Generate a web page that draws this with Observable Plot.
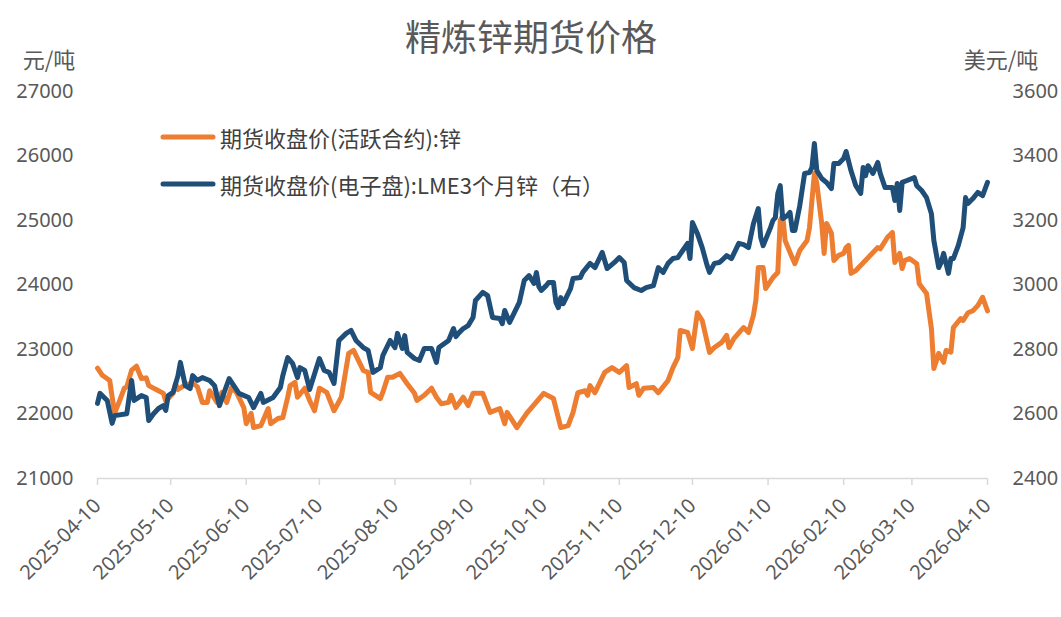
<!DOCTYPE html>
<html><head><meta charset="utf-8">
<script src="https://cdn.jsdelivr.net/npm/d3@7"></script>
<script src="https://cdn.jsdelivr.net/npm/@observablehq/plot@0.6"></script>
<style>html,body{margin:0;padding:0;background:#fff}#chart svg{display:block}</style>
</head><body><div id="chart"></div>
<script>
const chartTitle = "精炼锌期货价格";
const leftUnit = "元/吨";
const rightUnit = "美元/吨";
const seriesNames = ["期货收盘价(活跃合约):锌", "期货收盘价(电子盘):LME3个月锌（右）"];
const seriesColors = ["#ED7D31", "#1F4E79"];
const leftTicks = [21000, 22000, 23000, 24000, 25000, 26000, 27000];
const rightTicks = [2400, 2600, 2800, 3000, 3200, 3400, 3600];
const xTicks = ["2025-04-10","2025-05-10","2025-06-10","2025-07-10","2025-08-10","2025-09-10","2025-10-10","2025-11-10","2025-12-10","2026-01-10","2026-02-10","2026-03-10","2026-04-10"];

const shfeDates = ["2025-04-10","2025-04-12","2025-04-15","2025-04-17","2025-04-19","2025-04-21","2025-04-22","2025-04-24","2025-04-26","2025-04-28","2025-04-30","2025-05-01","2025-05-05","2025-05-07","2025-05-08","2025-05-11","2025-05-12","2025-05-13","2025-05-16","2025-05-19","2025-05-21","2025-05-23","2025-05-25","2025-05-26","2025-05-29","2025-05-31","2025-06-02","2025-06-04","2025-06-06","2025-06-09","2025-06-10","2025-06-12","2025-06-13","2025-06-16","2025-06-19","2025-06-20","2025-06-23","2025-06-25","2025-06-27","2025-06-28","2025-06-30","2025-07-01","2025-07-04","2025-07-06","2025-07-08","2025-07-10","2025-07-13","2025-07-16","2025-07-19","2025-07-22","2025-07-24","2025-07-28","2025-07-30","2025-07-31","2025-08-04","2025-08-05","2025-08-07","2025-08-09","2025-08-12","2025-08-15","2025-08-18","2025-08-19","2025-08-22","2025-08-25","2025-08-27","2025-08-29","2025-09-01","2025-09-02","2025-09-04","2025-09-07","2025-09-09","2025-09-11","2025-09-15","2025-09-18","2025-09-22","2025-09-24","2025-09-25","2025-09-29","2025-10-03","2025-10-10","2025-10-14","2025-10-17","2025-10-20","2025-10-22","2025-10-24","2025-10-27","2025-10-28","2025-10-29","2025-10-31","2025-11-04","2025-11-07","2025-11-10","2025-11-13","2025-11-14","2025-11-17","2025-11-18","2025-11-20","2025-11-24","2025-11-26","2025-11-30","2025-12-02","2025-12-04","2025-12-05","2025-12-08","2025-12-10","2025-12-12","2025-12-14","2025-12-17","2025-12-19","2025-12-22","2025-12-24","2025-12-25","2025-12-27","2025-12-30","2025-12-31","2026-01-02","2026-01-04","2026-01-05","2026-01-06","2026-01-08","2026-01-09","2026-01-12","2026-01-14","2026-01-15","2026-01-16","2026-01-17","2026-01-19","2026-01-21","2026-01-23","2026-01-26","2026-01-27","2026-01-29","2026-01-30","2026-02-01","2026-02-02","2026-02-03","2026-02-05","2026-02-06","2026-02-08","2026-02-10","2026-02-11","2026-02-12","2026-02-13","2026-02-15","2026-02-24","2026-02-25","2026-02-28","2026-03-02","2026-03-03","2026-03-05","2026-03-06","2026-03-07","2026-03-09","2026-03-12","2026-03-13","2026-03-16","2026-03-18","2026-03-19","2026-03-21","2026-03-23","2026-03-24","2026-03-26","2026-03-27","2026-03-30","2026-03-31","2026-04-02","2026-04-04","2026-04-06","2026-04-08","2026-04-10"];
const shfeValues = [22710,22600,22520,22010,22200,22400,22420,22680,22740,22550,22560,22440,22360,22320,22200,22320,22470,22380,22450,22480,22420,22180,22180,22360,22180,22335,22180,22410,22335,22100,21850,22010,21790,21820,22085,21850,21930,21945,22260,22440,22490,22260,22400,22210,22050,22400,22335,22050,22260,22940,22985,22675,22645,22335,22240,22335,22570,22570,22630,22470,22320,22210,22290,22400,22260,22160,22180,22290,22100,22260,22130,22320,22320,22025,22085,21850,22025,21790,22010,22320,22240,21790,21820,22020,22330,22360,22290,22440,22330,22645,22720,22645,22750,22410,22470,22290,22400,22410,22330,22520,22720,22875,23295,23265,23015,23570,23450,22955,23030,23110,23220,23030,23170,23300,23340,23265,23530,23760,24270,24270,23945,24115,24195,25000,25080,24690,24505,24330,24535,24690,24890,25730,25575,24955,24490,24955,24800,24380,24460,24490,24580,24615,24180,24225,24580,24560,24740,24815,24350,24490,24255,24380,24410,24330,24020,23870,23325,22705,22940,22800,22985,22960,23340,23480,23450,23570,23600,23680,23810,23600];

const lmeDates = ["2025-04-10","2025-04-11","2025-04-14","2025-04-16","2025-04-17","2025-04-22","2025-04-24","2025-04-25","2025-04-28","2025-04-30","2025-05-01","2025-05-03","2025-05-05","2025-05-07","2025-05-08","2025-05-09","2025-05-11","2025-05-13","2025-05-14","2025-05-16","2025-05-18","2025-05-19","2025-05-21","2025-05-23","2025-05-26","2025-05-28","2025-05-30","2025-06-03","2025-06-07","2025-06-11","2025-06-13","2025-06-16","2025-06-17","2025-06-21","2025-06-24","2025-06-25","2025-06-27","2025-06-29","2025-07-01","2025-07-02","2025-07-04","2025-07-06","2025-07-10","2025-07-12","2025-07-14","2025-07-16","2025-07-18","2025-07-21","2025-07-23","2025-07-25","2025-07-28","2025-07-30","2025-08-01","2025-08-04","2025-08-05","2025-08-08","2025-08-10","2025-08-11","2025-08-13","2025-08-14","2025-08-15","2025-08-18","2025-08-20","2025-08-22","2025-08-25","2025-08-27","2025-08-28","2025-09-01","2025-09-03","2025-09-04","2025-09-05","2025-09-07","2025-09-09","2025-09-11","2025-09-12","2025-09-15","2025-09-17","2025-09-19","2025-09-22","2025-09-23","2025-09-24","2025-09-26","2025-09-30","2025-10-02","2025-10-04","2025-10-06","2025-10-07","2025-10-08","2025-10-09","2025-10-11","2025-10-12","2025-10-14","2025-10-15","2025-10-16","2025-10-17","2025-10-18","2025-10-21","2025-10-22","2025-10-25","2025-10-26","2025-10-29","2025-10-31","2025-11-03","2025-11-05","2025-11-08","2025-11-10","2025-11-12","2025-11-13","2025-11-16","2025-11-19","2025-11-21","2025-11-24","2025-11-26","2025-11-28","2025-11-30","2025-12-02","2025-12-04","2025-12-06","2025-12-08","2025-12-09","2025-12-10","2025-12-12","2025-12-14","2025-12-16","2025-12-17","2025-12-19","2025-12-21","2025-12-22","2025-12-24","2025-12-26","2025-12-29","2025-12-31","2026-01-02","2026-01-04","2026-01-06","2026-01-07","2026-01-08","2026-01-11","2026-01-12","2026-01-13","2026-01-14","2026-01-15","2026-01-16","2026-01-18","2026-01-19","2026-01-20","2026-01-21","2026-01-23","2026-01-25","2026-01-27","2026-01-28","2026-01-29","2026-01-30","2026-02-01","2026-02-03","2026-02-05","2026-02-06","2026-02-08","2026-02-10","2026-02-11","2026-02-13","2026-02-15","2026-02-17","2026-02-18","2026-02-19","2026-02-20","2026-02-22","2026-02-24","2026-02-25","2026-02-27","2026-03-02","2026-03-03","2026-03-04","2026-03-05","2026-03-06","2026-03-08","2026-03-11","2026-03-12","2026-03-14","2026-03-16","2026-03-18","2026-03-19","2026-03-21","2026-03-22","2026-03-23","2026-03-25","2026-03-26","2026-03-27","2026-03-29","2026-03-31","2026-04-01","2026-04-02","2026-04-04","2026-04-06","2026-04-08","2026-04-10"];
const lmeValues = [2633,2664,2642,2571,2595,2601,2704,2642,2657,2651,2580,2601,2617,2626,2611,2657,2667,2719,2760,2688,2679,2719,2704,2713,2704,2688,2626,2710,2664,2651,2620,2664,2636,2651,2682,2719,2775,2757,2713,2744,2735,2676,2772,2735,2729,2695,2828,2850,2859,2828,2806,2797,2729,2744,2781,2828,2806,2850,2803,2843,2791,2772,2766,2803,2803,2760,2806,2828,2865,2840,2850,2865,2874,2899,2952,2977,2967,2899,2896,2880,2921,2884,2946,3014,3029,3005,3039,2995,2983,2998,3008,3008,2946,2930,2961,2942,2989,3020,3023,3039,3067,3054,3101,3051,3070,3085,3070,3014,2992,2983,2992,2998,3054,3039,3067,3082,3085,3107,3129,3082,3194,3160,3116,3061,3039,3067,3070,3076,3091,3082,3129,3125,3116,3190,3237,3147,3122,3178,3200,3209,3284,3308,3206,3216,3225,3169,3169,3246,3346,3349,3364,3439,3355,3330,3318,3299,3377,3377,3392,3414,3355,3308,3284,3364,3339,3370,3346,3380,3346,3302,3302,3262,3315,3231,3318,3324,3333,3308,3293,3271,3221,3138,3054,3070,3098,3036,3082,3082,3122,3178,3271,3253,3268,3287,3277,3318];

// LME values are drawn on the right axis: map USD onto the left (CNY) scale
const toLeft = v => 21000 + (v - 2400) * 5;
const toRight = v => Math.round((v - 21000) / 5 + 2400);

const parse = d3.utcParse("%Y-%m-%d");
const fmt = d3.utcFormat("%Y-%m-%d");
const shfe = shfeDates.map((d, i) => ({date: parse(d), value: shfeValues[i]}));
const lme = lmeDates.map((d, i) => ({date: parse(d), value: toLeft(lmeValues[i])}));

const tickFont = "'Noto Sans', 'Open Sans', sans-serif";
const cjkFont = "'Noto Sans CJK SC', 'Noto Sans', sans-serif";

const plot = Plot.plot({
  width: 1061,
  height: 617,
  marginLeft: 97,
  marginRight: 74,
  marginTop: 91,
  marginBottom: 139,
  style: {fontFamily: tickFont, fontSize: "20px", color: "#595959", background: "#fff"},
  x: {type: "utc", domain: [parse(xTicks[0]), parse(xTicks[xTicks.length - 1])]},
  y: {domain: [leftTicks[0], leftTicks[leftTicks.length - 1]]},
  marks: [
    Plot.ruleY([leftTicks[0]], {stroke: "#d9d9d9", strokeWidth: 1.5}),
    Plot.axisX(xTicks.map(parse), {tickFormat: fmt, tickRotate: -45, tickSize: 7, tickPadding: 17, stroke: "#d9d9d9", fill: "#595959", strokeWidth: 1.5, fontSize: 20, label: null}),
    Plot.axisY(leftTicks, {anchor: "left", tickSize: 0, tickPadding: 24, tickFormat: d => String(d), fill: "#595959", fontSize: 20, label: null}),
    Plot.axisY(rightTicks.map(toLeft), {anchor: "right", tickSize: 0, tickPadding: 25, tickFormat: d => String(toRight(d)), fill: "#595959", fontSize: 20, label: null}),
    Plot.line(shfe, {x: "date", y: "value", stroke: seriesColors[0], strokeWidth: 5, strokeLinejoin: "round", strokeLinecap: "round"}),
    Plot.line(lme, {x: "date", y: "value", stroke: seriesColors[1], strokeWidth: 5, strokeLinejoin: "round", strokeLinecap: "round"})
  ]
});

const svg = d3.select(plot);
svg.append("text").text(chartTitle)
  .attr("x", 531).attr("y", 35).attr("text-anchor", "middle").attr("dominant-baseline", "central")
  .attr("font-family", cjkFont).attr("font-size", 36).attr("fill", "#595959");
svg.append("text").text(leftUnit)
  .attr("x", 49).attr("y", 58).attr("text-anchor", "middle").attr("dominant-baseline", "central")
  .attr("font-family", cjkFont).attr("font-size", 22).attr("fill", "#595959");
svg.append("text").text(rightUnit)
  .attr("x", 1001).attr("y", 58).attr("text-anchor", "middle").attr("dominant-baseline", "central")
  .attr("font-family", cjkFont).attr("font-size", 22).attr("fill", "#595959");

const legend = svg.append("g");
seriesNames.forEach((name, i) => {
  const y = 137 + i * 47;
  legend.append("line").attr("x1", 163).attr("x2", 213).attr("y1", y).attr("y2", y)
    .attr("stroke", seriesColors[i]).attr("stroke-width", 5).attr("stroke-linecap", "round");
  legend.append("text").text(name).attr("x", 220).attr("y", y).attr("text-anchor", "start").attr("dominant-baseline", "central")
    .attr("font-family", cjkFont).attr("font-size", 22).attr("fill", "#404040");
});

document.getElementById("chart").append(plot);
</script>
</body></html>
